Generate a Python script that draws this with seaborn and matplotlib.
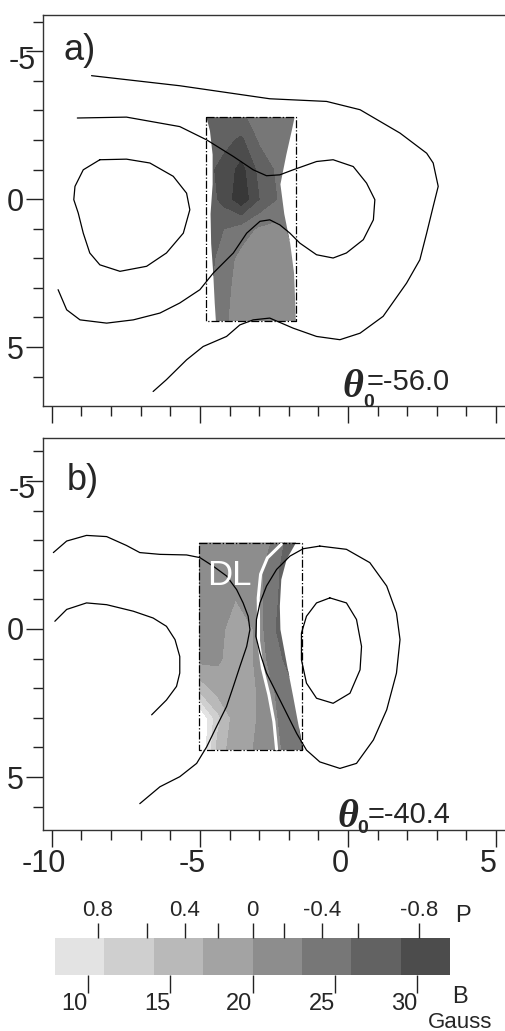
import numpy as np
import matplotlib
matplotlib.use("Agg")
import matplotlib.pyplot as plt
import seaborn as sns
from matplotlib.colors import ListedColormap, BoundaryNorm
from matplotlib.cm import ScalarMappable
from matplotlib.patches import Polygon
from matplotlib.transforms import ScaledTranslation

# ---------------- panel a : field lines (x, y in plot units) ----------------
a_outer_x = [-8.66, -5.68, -2.64, -0.72, 0.41, 1.76, 2.66, 2.88, 3.05, 2.88, 2.66, 2.43, 1.98,
             1.19, 0.41, -0.27, -1.06, -1.85, -2.64, -3.20, -3.65, -4.10, -4.89, -5.45, -6.13, -6.58]
a_outer_y = [-4.17, -3.83, -3.39, -3.30, -3.02, -2.23, -1.55, -1.22, -0.43, 0.25, 1.15, 2.05, 2.84,
             3.96, 4.53, 4.75, 4.64, 4.36, 4.02, 4.08, 4.25, 4.64, 4.98, 5.43, 6.10, 6.50]

a_mid_x = [-9.14, -7.48, -5.68, -4.77, -3.87, -3.20, -2.75, -2.30, -1.85, -1.06, -0.50, 0.18, 0.63,
           0.91, 0.86, 0.52, -0.05, -0.50, -1.06, -1.62, -1.96, -2.30, -2.64, -2.97, -3.42, -3.87,
           -4.55, -5.00, -5.68, -6.35, -7.25, -8.15, -9.05, -9.50, -9.79]
a_mid_y = [-2.74, -2.77, -2.45, -2.00, -1.44, -0.99, -0.79, -0.82, -0.99, -1.27, -1.33, -1.10, -0.54,
           0.02, 0.70, 1.37, 1.82, 1.99, 1.88, 1.49, 1.15, 0.87, 0.70, 0.75, 1.15, 1.82,
           2.50, 3.06, 3.51, 3.85, 4.08, 4.19, 4.08, 3.74, 3.06]

a_loop_x = [-8.38, -7.48, -6.69, -5.90, -5.45, -5.34, -5.56, -6.13, -6.80, -7.70, -8.38, -8.72,
            -8.94, -9.11, -9.26, -9.22, -8.94, -8.38]
a_loop_y = [-1.33, -1.35, -1.22, -0.77, -0.20, 0.36, 1.15, 1.82, 2.27, 2.44, 2.22, 1.82,
            1.15, 0.47, 0.02, -0.43, -0.99, -1.33]

# panel a : magnetogram window and B field on a coarse grid (Gauss)
a_rect_x = [-4.80, -1.76, -1.76, -4.80, -4.80]
a_rect_y = [-2.77, -2.77, 4.12, 4.12, -2.77]
a_grid_x = [-4.80, -4.20, -3.60, -3.00, -2.40, -1.75]
a_grid_y = [-2.77, -2.0, -1.0, 0.0, 1.0, 2.0, 3.0, 4.12]
a_field = [
    [27.0, 27.5, 26.5, 24.5, 23.5, 25.0],
    [28.5, 28.0, 29.5, 25.5, 26.0, 25.0],
    [28.0, 30.0, 33.0, 28.0, 25.5, 25.0],
    [27.0, 30.0, 34.0, 29.0, 26.0, 25.0],
    [27.5, 26.0, 24.5, 22.5, 22.0, 24.0],
    [27.5, 24.5, 22.0, 21.0, 21.0, 23.0],
    [27.0, 24.0, 21.5, 21.0, 21.0, 22.5],
    [26.5, 23.5, 21.5, 21.0, 21.0, 22.0],
]
a_edge_y = [-2.77, -2.3, -1.5, -0.5, 0.5, 1.5, 2.5, 3.5, 4.12]
a_left_x = [-4.78, -4.66, -4.57, -4.57, -4.64, -4.62, -4.55, -4.50, -4.46]
a_right_x = [-1.80, -1.90, -2.08, -2.28, -2.15, -1.95, -1.82, -1.78, -1.76]

# ---------------- panel b : field lines ----------------
b_upper_x = [-9.95, -9.50, -8.83, -8.15, -7.48, -7.03, -6.35, -5.45, -5.00, -4.55, -4.10, -3.76,
             -3.54, -3.37, -3.31, -3.42, -3.65, -3.87, -4.10, -4.44, -4.77, -5.11, -5.68, -6.35, -7.03]
b_upper_y = [-2.58, -2.97, -3.16, -3.12, -2.82, -2.58, -2.52, -2.50, -2.41, -2.12, -1.79, -1.33,
             -0.88, -0.43, 0.02, 0.59, 1.27, 1.94, 2.62, 3.30, 3.98, 4.54, 4.99, 5.33, 5.90]

b_lower_x = [-9.90, -9.50, -8.83, -8.15, -7.25, -6.58, -6.13, -5.84, -5.68, -5.68, -5.79, -6.13, -6.63]
b_lower_y = [-0.26, -0.66, -0.88, -0.82, -0.60, -0.37, -0.09, 0.36, 0.93, 1.49, 1.94, 2.40, 2.90]

b_outer_x = [-0.95, -0.05, 0.74, 1.31, 1.64, 1.76, 1.64, 1.31, 0.86, 0.29, -0.27, -0.95, -1.40,
             -1.73, -2.07, -2.41, -2.75, -2.97, -3.11, -3.09, -2.97, -2.75, -2.41, -1.96, -1.51, -0.95]
b_outer_y = [-2.80, -2.69, -2.24, -1.45, -0.54, 0.36, 1.49, 2.73, 3.75, 4.54, 4.71, 4.49, 4.09,
             3.53, 2.85, 2.17, 1.49, 0.81, 0.25, -0.32, -0.88, -1.45, -2.01, -2.46, -2.71, -2.80]

b_inner_x = [-0.61, -0.05, 0.29, 0.46, 0.41, 0.07, -0.50, -1.06, -1.40, -1.57, -1.57, -1.40, -1.06, -0.61]
b_inner_y = [-1.05, -0.88, -0.32, 0.59, 1.38, 2.17, 2.51, 2.34, 1.83, 1.04, 0.14, -0.43, -0.88, -1.05]

# dividing line DL
dl_x = [-2.25, -2.72, -2.95, -3.03, -3.02, -3.02, -2.89, -2.67, -2.50, -2.41]
dl_y = [-2.86, -2.40, -1.85, -1.05, -0.32, 0.40, 1.32, 2.22, 3.13, 4.06]

b_rect_x = [-5.03, -1.56, -1.56, -5.03, -5.03]
b_rect_y = [-2.92, -2.92, 4.09, 4.09, -2.92]
b_grid_x = [-5.03, -4.40, -3.80, -3.20, -2.60, -2.00, -1.45]
b_grid_y = [-2.92, -2.0, -1.0, 0.0, 1.0, 2.0, 3.0, 4.09]
b_field = [
    [21.5, 21.5, 21.5, 21.5, 23.0, 27.0, 29.0],
    [21.5, 21.5, 21.5, 21.5, 24.0, 28.0, 29.0],
    [21.5, 21.5, 20.0, 21.0, 24.5, 28.0, 29.0],
    [21.5, 21.0, 18.5, 20.0, 25.0, 28.5, 29.0],
    [21.0, 20.5, 18.5, 20.0, 24.0, 27.0, 29.0],
    [15.0, 18.5, 18.5, 19.5, 22.5, 25.0, 28.0],
    [4.0, 13.0, 18.5, 19.5, 22.0, 24.5, 27.0],
    [3.0, 15.0, 19.0, 20.0, 21.5, 24.0, 26.5],
]
b_edge_y = [-2.92, -2.35, -1.67, -0.77, 0.02, 1.15, 2.28, 3.19, 4.09]
b_left_x = [-5.03] * 9
b_right_x = [-1.75, -2.07, -2.25, -2.30, -2.28, -2.07, -1.85, -1.68, -1.50]

# ---------------- colour scale ----------------
b_bounds = [8, 11, 14, 17, 20, 23, 26, 29, 32]
grey_levels = ["#e3e3e3", "#cfcfcf", "#b9b9b9", "#a3a3a3", "#8d8d8d", "#777777", "#626262", "#4c4c4c"]
b_ticks = [10, 15, 20, 25, 30]
p_labels = ["0.8", "0.4", "0", "-0.4", "-0.8"]
p_ticks_b = [10.6, 15.9, 20.0, 24.2, 30.1]
p_minor_b = [13.6, 17.9, 21.9, 26.4]

sns.set_style("ticks")
plt.rcParams["font.family"] = ["Liberation Sans", "DejaVu Sans"]
plt.rcParams["axes.unicode_minus"] = False

W, H = 506, 1031
fig = plt.figure(figsize=(W / 100, H / 100), dpi=100)


def fx(px):
    return px / W


def fy(py):
    return 1 - py / H


def draw_fill(ax, gx, gy, field, edge_y, left_x, right_x):
    levels = [-100] + b_bounds + [100]
    colors = ["white"] + grey_levels + ["#383838"]
    cs = ax.contourf(gx, gy, np.array(field), levels=levels, colors=colors, zorder=1)
    poly = list(zip(left_x, edge_y)) + list(zip(right_x[::-1], edge_y[::-1]))
    clip = Polygon(poly, closed=True, transform=ax.transData)
    cs.set_clip_path(clip)


def line(ax, xs, ys, **kw):
    sns.lineplot(x=xs, y=ys, sort=False, estimator=None, color="black", lw=0.9, ax=ax, zorder=4, **kw)


def style_axes(ax, ylim, xlabels):
    ax.set_xlim(-10.3, 5.34)
    ax.set_ylim(*ylim)
    ax.set_xticks([-10, -5, 0, 5])
    ax.set_xticks(range(-10, 6), minor=True)
    ax.set_yticks([-5, 0, 5])
    ax.set_yticks(range(-6, 7), minor=True)
    ax.set_yticklabels(["-5", "0", "5"])
    ax.tick_params(which="major", direction="out", length=12, width=1, pad=2, labelsize=22, color="#222222")
    ax.tick_params(which="minor", direction="out", length=7, width=1, color="#222222")
    ax.tick_params(axis="x", labelbottom=xlabels)
    if xlabels:
        ax.set_xticklabels(["-10", "-5", "0", "5"])
    for s in ["left", "top", "bottom"]:
        ax.spines[s].set_linewidth(1.0)
        ax.spines[s].set_color("#333333")
    ax.spines["right"].set_visible(False)
    ax.set_xlabel("")
    ax.set_ylabel("")
    # the "-5" label sits over its tick in the original
    lab = ax.get_yticklabels()[0]
    lab.set_transform(lab.get_transform() + ScaledTranslation(12 / 100, -6 / 100, fig.dpi_scale_trans))


# ---- panel a ----
ax_a = fig.add_axes([fx(43), fy(406), (506 - 43) / W, (406 - 15) / H])
draw_fill(ax_a, a_grid_x, a_grid_y, a_field, a_edge_y, a_left_x, a_right_x)
ax_a.plot(a_rect_x, a_rect_y, color="black", lw=0.9, ls="-.", zorder=3)
line(ax_a, a_outer_x, a_outer_y)
line(ax_a, a_mid_x, a_mid_y)
line(ax_a, a_loop_x, a_loop_y)
style_axes(ax_a, (6.99, -6.22), False)

# ---- panel b ----
ax_b = fig.add_axes([fx(43), fy(830), (506 - 43) / W, (830 - 438) / H])
draw_fill(ax_b, b_grid_x, b_grid_y, b_field, b_edge_y, b_left_x, b_right_x)
ax_b.plot(b_rect_x, b_rect_y, color="black", lw=0.9, ls="-.", zorder=3)
sns.lineplot(x=dl_x, y=dl_y, sort=False, estimator=None, color="white", lw=2.2, ax=ax_b, zorder=3)
line(ax_b, b_upper_x, b_upper_y)
line(ax_b, b_lower_x, b_lower_y)
line(ax_b, b_outer_x, b_outer_y)
line(ax_b, b_inner_x, b_inner_y)
style_axes(ax_b, (6.79, -6.45), True)
shift = ScaledTranslation(-8 / 100, 0, fig.dpi_scale_trans)
for lab in ax_b.get_xticklabels():
    lab.set_transform(lab.get_transform() + shift)

# ---- annotations ----
fig.text(fx(64), fy(60), "a)", fontsize=26, ha="left", va="baseline")
fig.text(fx(67), fy(490), "b)", fontsize=26, ha="left", va="baseline")
fig.text(fx(207), fy(585), "DL", fontsize=25, color="white", ha="left", va="baseline")

theta_font = dict(family="Liberation Serif", style="italic", weight="bold")
for (tx, ty, sx, sy, vx, vy, val) in [(342, 397, 363, 407, 367, 390, "=-56.0"),
                                       (337, 827, 357, 833, 368, 823, "=-40.4")]:
    fig.text(fx(tx), fy(ty), "\u03b8", fontsize=29, ha="left", va="baseline", **theta_font)
    fig.text(fx(sx), fy(sy), "0", fontsize=14, weight="bold", ha="left", va="baseline")
    fig.text(fx(vx), fy(vy), val, fontsize=21, ha="left", va="baseline")

# ---- colour bar ----
cax = fig.add_axes([fx(55), fy(975), (450 - 55) / W, (975 - 938) / H])
sm = ScalarMappable(norm=BoundaryNorm(b_bounds, len(grey_levels)), cmap=ListedColormap(grey_levels))
cb = fig.colorbar(sm, cax=cax, orientation="horizontal")
cb.outline.set_visible(False)
cax.set_xlim(8, 32)
cax.set_xticks(b_ticks)
cax.set_xticklabels([str(t) for t in b_ticks], ha="right")
cax.xaxis.set_minor_locator(matplotlib.ticker.NullLocator())
cax.tick_params(axis="x", direction="out", length=13, width=1, pad=0, labelsize=17, color="#222222")

ptop = cax.twiny()
ptop.set_xlim(8, 32)
ptop.set_xticks(p_ticks_b)
ptop.set_xticklabels(p_labels)
ptop.set_xticks(p_minor_b, minor=True)
ptop.tick_params(which="both", direction="out", length=11, width=1, pad=1, labelsize=16, color="#222222")
for s in ptop.spines.values():
    s.set_visible(False)

fig.text(fx(455), fy(922), "P", fontsize=17, ha="left", va="baseline")
fig.text(fx(452), fy(1003), "B", fontsize=17, ha="left", va="baseline")
fig.text(fx(428), fy(1028), "Gauss", fontsize=16, ha="left", va="baseline")

fig.savefig("out.png", dpi=100)
